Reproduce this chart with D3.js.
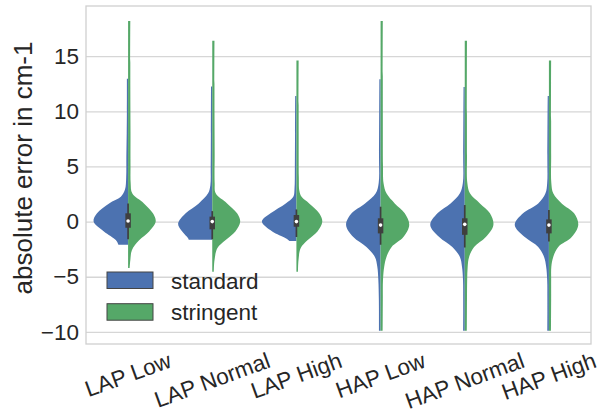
<!DOCTYPE html>
<html>
<head>
<meta charset="utf-8">
<script src="https://cdn.jsdelivr.net/npm/d3@7"></script>
<style>
	body { margin: 0; background: #fff; }
	text { font-family: "Liberation Sans", Arial, sans-serif; fill: #262626; }
</style>
</head>
<body>
<div id="chart"></div>
<script>
	var categories = ["LAP Low", "LAP Normal", "LAP High", "HAP Low", "HAP Normal", "HAP High"];
	var seriesNames = ["standard", "stringent"];
	var seriesColors = ["#4C72B0", "#55A868"];
	var yTicks = [-10, -5, 0, 5, 10, 15];

	// density profiles: [value, relative density]
	var standardDensity = [
		[[-2.1, 0.28], [-1.7, 0.35], [-0.9, 0.70], [0, 1.0], [0.75, 0.90], [1.65, 0.55], [2.25, 0.21], [2.9, 0.09], [4, 0.055], [6, 0.05], [8, 0.04], [10, 0.035], [12.95, 0.035]],
		[[-1.65, 0.68], [-1.5, 0.70], [-0.9, 0.87], [-0.2, 0.99], [0.75, 0.77], [1.65, 0.39], [2.56, 0.12], [3.3, 0.055], [5, 0.045], [8, 0.04], [12.25, 0.035]],
		[[-1.75, 0.20], [-1.5, 0.31], [-0.9, 0.70], [0, 1.0], [0.75, 0.75], [1.65, 0.31], [2.25, 0.09], [3, 0.055], [5, 0.045], [8, 0.04], [11.4, 0.035]],
		[[-9.9, 0.045], [-7.1, 0.05], [-5.3, 0.065], [-4.1, 0.095], [-3.2, 0.165], [-2.3, 0.41], [-1.4, 0.79], [-0.3, 1.0], [0.75, 0.84], [1.65, 0.45], [2.56, 0.14], [3.5, 0.055], [6, 0.045], [12.9, 0.035]],
		[[-9.9, 0.045], [-7, 0.045], [-5.3, 0.05], [-4.1, 0.08], [-3.2, 0.14], [-2.3, 0.36], [-1.4, 0.74], [-0.3, 1.0], [0.75, 0.79], [1.65, 0.41], [2.56, 0.14], [3.5, 0.055], [6, 0.045], [12.2, 0.035]],
		[[-9.9, 0.045], [-7, 0.045], [-5.3, 0.05], [-4.1, 0.08], [-3.2, 0.14], [-2.3, 0.31], [-1.4, 0.70], [-0.3, 0.99], [0.75, 0.75], [1.65, 0.31], [2.56, 0.10], [3.5, 0.05], [6, 0.045], [11.4, 0.035]]
	];

	var stringentDensity = [
		[[-4.2, 0.045], [-3.5, 0.065], [-2.6, 0.11], [-1.7, 0.32], [-0.9, 0.61], [0, 0.80], [0.75, 0.72], [1.65, 0.46], [2.56, 0.12], [3.5, 0.075], [5, 0.07], [8, 0.07], [12, 0.065], [18.2, 0.065]],
		[[-4.55, 0.045], [-3.5, 0.065], [-2.4, 0.15], [-1.7, 0.38], [-0.9, 0.67], [0, 0.81], [0.75, 0.72], [1.65, 0.43], [2.56, 0.10], [3.5, 0.07], [6, 0.07], [10, 0.065], [16.4, 0.065]],
		[[-4.55, 0.045], [-3.5, 0.06], [-2.4, 0.125], [-1.7, 0.32], [-0.9, 0.61], [0, 0.75], [0.75, 0.66], [1.65, 0.37], [2.25, 0.15], [2.8, 0.085], [4, 0.07], [8, 0.065], [14.6, 0.065]],
		[[-9.9, 0.06], [-7.1, 0.065], [-5.3, 0.07], [-4.1, 0.105], [-3.2, 0.17], [-2.3, 0.32], [-1.4, 0.66], [-0.3, 0.83], [0.75, 0.70], [1.65, 0.41], [2.56, 0.17], [3.5, 0.085], [5, 0.07], [10, 0.065], [18.2, 0.065]],
		[[-9.9, 0.06], [-7, 0.065], [-5.3, 0.07], [-4.1, 0.085], [-3.2, 0.125], [-2.3, 0.27], [-1.4, 0.61], [-0.3, 0.83], [0.75, 0.73], [1.65, 0.44], [2.56, 0.15], [3.5, 0.075], [6, 0.065], [16.4, 0.065]],
		[[-9.9, 0.06], [-7, 0.065], [-5.3, 0.065], [-4.1, 0.07], [-3.2, 0.125], [-2.3, 0.27], [-1.4, 0.66], [-0.3, 0.85], [0.75, 0.73], [1.65, 0.37], [2.56, 0.125], [3.5, 0.07], [6, 0.065], [14.6, 0.065]]
	];

	// inner box of the combined data
	var whiskerLow = [-1.6, -1.6, -1.4, -2.1, -2.35, -1.8];
	var quartile1 = [-0.56, -0.7, -0.47, -1.07, -1.2, -1.07];
	var medians = [0.05, 0, 0, -0.32, -0.25, -0.32];
	var quartile3 = [0.75, 0.45, 0.6, 0.3, 0.3, 0.2];
	var whiskerHigh = [1.65, 0.95, 1.1, 1.35, 1.5, 1.05];

	var width = 616,
		height = 412;

	var margin = { top: 6, right: 25, bottom: 68, left: 86 };
	var fontSize = 22.5;

	var svg = d3.select("#chart")
		.append("svg")
		.attr("width", width)
		.attr("height", height);

	var x = d3.scaleBand()
		.domain(categories)
		.range([margin.left, width - margin.right])
		.padding(0);

	var y = d3.scaleLinear()
		.domain([-11.1, 19.55])
		.range([height - margin.bottom, margin.top]);

	// half width of a violin for density 1
	var w = d3.scaleLinear()
		.domain([0, 1])
		.range([0, x.bandwidth() * 0.41]);

	// grid + y tick labels
	var yAxis = svg.append("g")
		.attr("transform", "translate(" + margin.left + ",0)")
		.call(d3.axisLeft(y)
			.tickValues(yTicks)
			.tickSize(-(width - margin.left - margin.right))
			.tickPadding(7));

	yAxis.select(".domain").remove();
	yAxis.selectAll(".tick line")
		.attr("stroke", "#d6d6d6")
		.attr("stroke-width", 1.3);
	yAxis.selectAll(".tick text")
		.attr("font-size", fontSize)
		.style("font-family", "'Liberation Sans', Arial, sans-serif")
		.attr("fill", "#262626");

	// axes frame
	svg.append("rect")
		.attr("x", margin.left)
		.attr("y", margin.top)
		.attr("width", width - margin.left - margin.right)
		.attr("height", height - margin.top - margin.bottom)
		.attr("fill", "none")
		.attr("stroke", "#d0d0d0")
		.attr("stroke-width", 1.3);

	// violins
	var violins = svg.append("g");

	categories.forEach(function(cat, i) {
		var cx = x(cat) + x.bandwidth() / 2;
		[standardDensity[i], stringentDensity[i]].forEach(function(profile, s) {
			var sign = s === 0 ? -1 : 1;
			var area = d3.area()
				.curve(d3.curveCatmullRom)
				.y(function(d) { return y(d[0]); })
				.x0(cx)
				.x1(function(d) { return cx + sign * w(d[1]); });
			violins.append("path")
				.attr("d", area(profile))
				.attr("fill", seriesColors[s]);
		});
	});

	// inner boxes
	var boxes = svg.append("g")
		.selectAll("g")
		.data(categories)
		.enter().append("g");

	boxes.append("line")
		.attr("x1", function(d) { return x(d) + x.bandwidth() / 2; })
		.attr("x2", function(d) { return x(d) + x.bandwidth() / 2; })
		.attr("y1", function(d, i) { return y(whiskerLow[i]); })
		.attr("y2", function(d, i) { return y(whiskerHigh[i]); })
		.attr("stroke", "#3f3f3f")
		.attr("stroke-width", 1.7);

	boxes.append("line")
		.attr("x1", function(d) { return x(d) + x.bandwidth() / 2; })
		.attr("x2", function(d) { return x(d) + x.bandwidth() / 2; })
		.attr("y1", function(d, i) { return y(quartile1[i]); })
		.attr("y2", function(d, i) { return y(quartile3[i]); })
		.attr("stroke", "#3f3f3f")
		.attr("stroke-width", 5.5);

	boxes.append("circle")
		.attr("cx", function(d) { return x(d) + x.bandwidth() / 2; })
		.attr("cy", function(d, i) { return y(medians[i]); })
		.attr("r", 1.8)
		.attr("fill", "#fff");

	// x tick labels, rotated like matplotlib (ha=center, bbox top under the axis)
	var xAxis = svg.append("g")
		.attr("transform", "translate(0," + (height - margin.bottom) + ")")
		.call(d3.axisBottom(x).tickSize(0));

	xAxis.select(".domain").remove();

	var angle = 20 * Math.PI / 180;
	xAxis.selectAll(".tick text")
		.attr("font-size", fontSize)
		.style("font-family", "'Liberation Sans', Arial, sans-serif")
		.attr("fill", "#262626")
		.attr("text-anchor", "middle")
		.attr("dy", null)
		.attr("dominant-baseline", "central")
		.each(function() {
			var t = d3.select(this);
			var len = this.getComputedTextLength();
			var boxH = len * Math.sin(angle) + fontSize * 1.1 * Math.cos(angle);
			var cy = 4 + boxH / 2;
			t.attr("y", cy)
				.attr("transform", "rotate(-20,0," + cy + ")");
		});

	// y label
	svg.append("text")
		.attr("transform", "translate(32,168) rotate(-90)")
		.attr("text-anchor", "middle")
		.attr("font-size", 26)
		.text("absolute error in cm-1");

	// legend
	var legend = svg.append("g")
		.selectAll("g")
		.data(seriesNames)
		.enter().append("g")
		.attr("transform", function(d, i) {
			return "translate(107," + (272 + i * 31.7) + ")";
		});

	legend.append("rect")
		.attr("width", 46)
		.attr("height", 16.5)
		.attr("fill", function(d, i) { return seriesColors[i]; })
		.attr("stroke", "#444")
		.attr("stroke-width", 1);

	legend.append("text")
		.attr("x", 64)
		.attr("y", 9)
		.attr("dominant-baseline", "central")
		.attr("font-size", fontSize)
		.text(function(d) { return d; });
</script>
</body>
</html>
